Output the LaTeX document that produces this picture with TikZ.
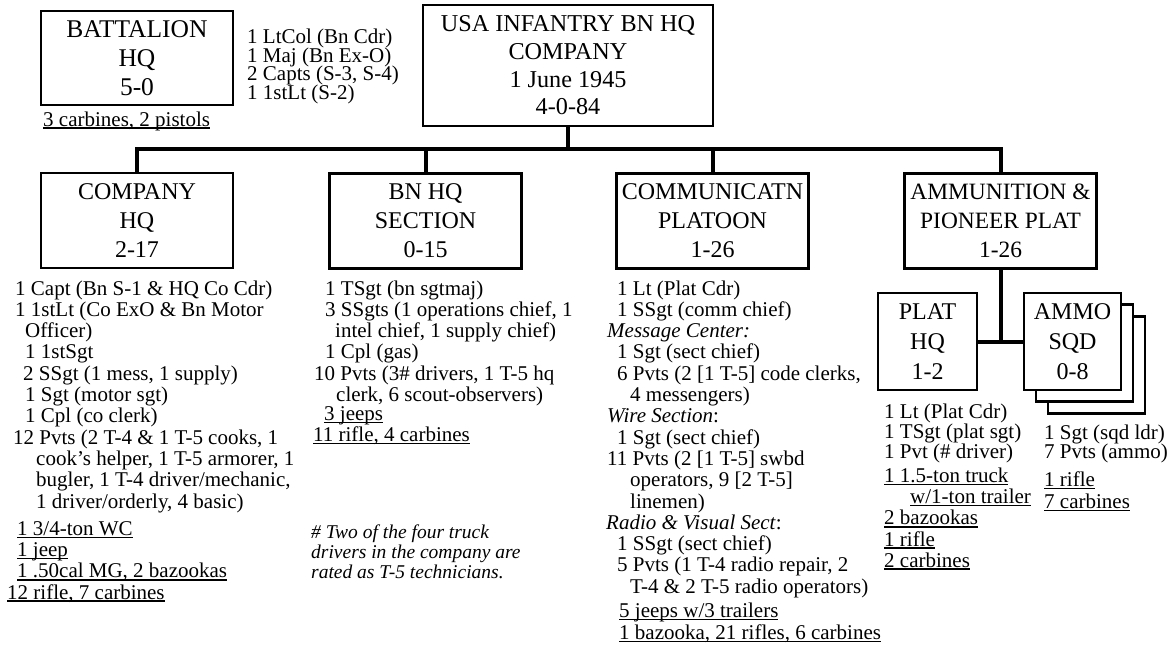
\documentclass[tikz,border=0pt]{standalone}
\usepackage{fontspec}
\setmainfont{Liberation Serif}
\newcommand{\blk}[1]{\vtop{\lineskiplimit=-100pt\relax\lineskip=0pt\relax\let\\\cr\halign{##\hfil\cr#1\cr}}}
\newcommand{\uln}[1]{\setbox0=\hbox{#1}\rlap{\rule[-2.6pt]{\wd0}{1.3pt}}\box0}
\newcommand{\indt}[1]{\hspace*{#1pt}}
\newcommand{\bfs}[1]{\fontsize{21}{#1}\selectfont}
\begin{document}
\begin{tikzpicture}[x=1pt,y=-1pt,
  box/.style={draw, line width=2.6pt, fill=white, align=center, inner sep=0pt,
    font=\fontsize{24}{29}\selectfont, minimum width=192pt, minimum height=95pt},
  conn/.style={line width=4pt},
  lst/.style={inner sep=0pt, anchor=base west, font=\bfs{21.3}}]
\useasboundingbox (0,0) rectangle (1174,645);

% boxes
\node[box, minimum height=94pt, font=\fontsize{25.5}{29}\selectfont] (bhq) at (137,58) {BATTALION\\HQ\\5-0};
\node[box, minimum width=290pt, minimum height=121pt, font=\fontsize{24.2}{27.7}\selectfont] (top) at (568,65.5) {USA INFANTRY BN HQ\\COMPANY\\1 June 1945\\4-0-84};
\node[box] (cohq) at (137,220.5) {COMPANY\\HQ\\2-17};
\node[box] (bnhq) at (425.5,221) {BN HQ\\SECTION\\0-15};
\node[box] (comm) at (712.5,221) {COMMUNICATN\\PLATOON\\1-26};
\node[box, font=\fontsize{23.4}{29}\selectfont] (ammo) at (1000.5,221) {AMMUNITION \&\\PIONEER PLAT\\1-26};
\node[box, minimum width=99pt, minimum height=97pt, font=\fontsize{24}{30}\selectfont] (plathq) at (927.5,341.5) {PLAT\\HQ\\1-2};
\node[box, minimum width=97pt, minimum height=97pt] (sqd3) at (1096.5,365) {};
\node[box, minimum width=97pt, minimum height=97pt] (sqd2) at (1084.5,353) {};
\node[box, minimum width=97pt, minimum height=97pt, font=\fontsize{24}{30}\selectfont] (sqd) at (1072.5,341.5) {AMMO\\SQD\\0-8};

% connectors
\coordinate (barL) at (137,149);
\draw[conn] (top.south) -- (top.south |- barL);
\draw[conn] (cohq.north) -- (cohq.north |- barL) -- (ammo.north |- barL) -- (ammo.north);
\draw[conn] (bnhq.north) -- (bnhq.north |- barL);
\draw[conn] (comm.north) -- (comm.north |- barL);
\draw[conn] (ammo.south) -- (ammo.south |- plathq.east);
\draw[conn] (plathq.east) -- (sqd.west);

% battalion hq texts
\node[lst, font=\bfs{18.7}] (bhqp) at (247,43.3) {\blk{1 LtCol (Bn Cdr)\\1 Maj (Bn Ex-O)\\2 Capts (S-3, S-4)\\1 1stLt (S-2)}};
\node[lst] (bhqe) at (43,126) {\uln{3 carbines, 2 pistols}};

% company hq
\node[lst] (cohqp) at (13,295) {\blk{%
\indt{2}1 Capt (Bn S-1 \& HQ Co Cdr)\\
\indt{2}1 1stLt (Co ExO \& Bn Motor\\
\indt{12}Officer)\\
\indt{12}1 1stSgt\\
\indt{10}2 SSgt (1 mess, 1 supply)\\
\indt{12}1 Sgt (motor sgt)\\
\indt{12}1 Cpl (co clerk)\\
12 Pvts (2 T-4 \& 1 T-5 cooks, 1\\
\indt{23}cook’s helper, 1 T-5 armorer, 1\\
\indt{23}bugler, 1 T-4 driver/mechanic,\\
\indt{23}1 driver/orderly, 4 basic)}};
\node[lst, font=\bfs{21.1}] (cohqe) at (7,535.7) {\blk{%
\indt{10}\uln{1 3/4-ton WC}\\
\indt{10}\uln{1 jeep}\\
\indt{10}\uln{1 .50cal MG, 2 bazookas}\\
\uln{12 rifle, 7 carbines}}};

% bn hq section
\node[lst] (bnhqp) at (314,295) {\blk{%
\indt{11}1 TSgt (bn sgtmaj)\\
\indt{11}3 SSgts (1 operations chief, 1\\
\indt{21}intel chief, 1 supply chief)\\
\indt{11}1 Cpl (gas)\\
10 Pvts (3\# drivers, 1 T-5 hq\\
\indt{22}clerk, 6 scout-observers)}};
\node[lst] (bnhqe) at (313,420.5) {\blk{%
\indt{11}\uln{3 jeeps}\\
\uln{11 rifle, 4 carbines}}};
\node[lst, font=\fontsize{19.5}{20}\selectfont\itshape] (note) at (311,538) {\blk{%
\# Two of the four truck\\
drivers in the company are\\
rated as T-5 technicians.}};

% communication platoon
\node[lst] (commp) at (606,295) {\blk{%
\indt{11}1 Lt (Plat Cdr)\\
\indt{11}1 SSgt (comm chief)\\
\indt{1}\textit{Message Center:}\\
\indt{11}1 Sgt (sect chief)\\
\indt{11}6 Pvts (2 [1 T-5] code clerks,\\
\indt{24}4 messengers)\\
\indt{1}\textit{Wire Section}:\\
\indt{11}1 Sgt (sect chief)\\
\indt{1}11 Pvts (2 [1 T-5] swbd\\
\indt{24}operators, 9 [2 T-5]\\
\indt{24}linemen)\\
\textit{Radio \& Visual Sect}:\\
\indt{11}1 SSgt (sect chief)\\
\indt{11}5 Pvts (1 T-4 radio repair, 2\\
\indt{24}T-4 \& 2 T-5 radio operators)}};
\node[lst, font=\bfs{22}] (comme) at (619,617.5) {\blk{%
\uln{5 jeeps w/3 trailers}\\
\uln{1 bazooka, 21 rifles, 6 carbines}}};

% ammunition & pioneer platoon
\node[lst, font=\bfs{20}] (plp) at (884,418.3) {\blk{%
1 Lt (Plat Cdr)\\
1 TSgt (plat sgt)\\
1 Pvt (\# driver)}};
\node[lst, font=\bfs{21.1}] (ple) at (884,482.7) {\blk{%
\uln{1 1.5-ton truck}\\
\indt{26}\uln{w/1-ton trailer}\\
\uln{2 bazookas}\\
\uln{1 rifle}\\
\uln{2 carbines}}};
\node[lst, font=\bfs{19}] (sqp) at (1044,439.3) {\blk{%
1 Sgt (sqd ldr)\\
7 Pvts (ammo)}};
\node[lst, font=\bfs{21.6}] (sqe) at (1044,486.7) {\blk{%
\uln{1 rifle}\\
\uln{7 carbines}}};
\end{tikzpicture}
\end{document}
